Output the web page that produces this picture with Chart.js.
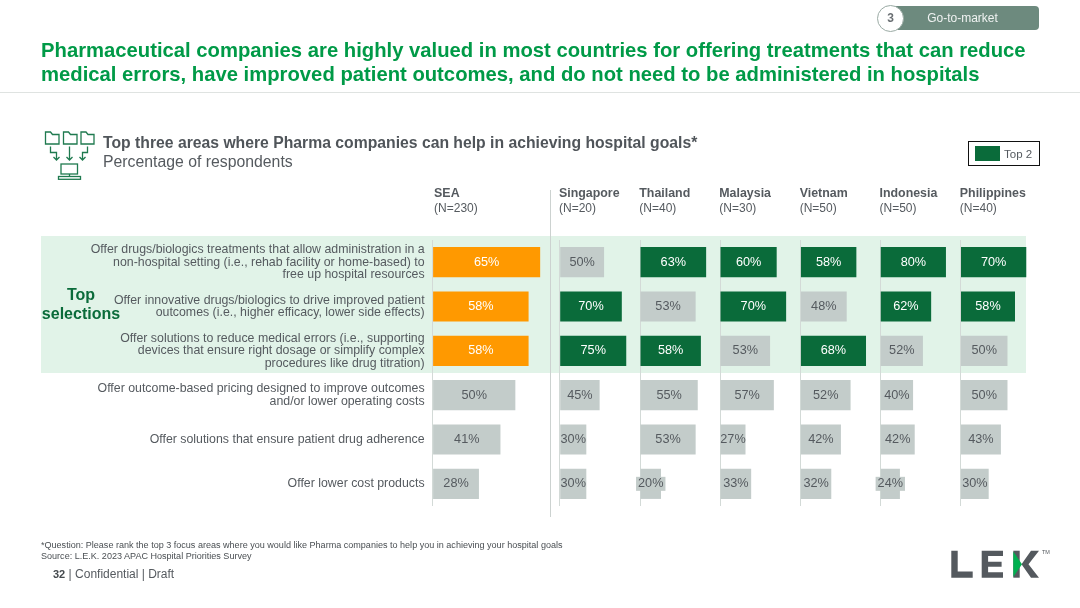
<!DOCTYPE html>
<html>
<head>
<meta charset="utf-8">
<title>Pharma companies hospital goals</title>
<script src="https://cdn.jsdelivr.net/npm/chart.js@4/dist/chart.umd.js"></script>
<style>
  html, body { margin: 0; padding: 0; background: #fff; }
  body { width: 1080px; height: 608px; position: relative; overflow: hidden; font-family: "Liberation Sans", Arial, sans-serif; color: #555a5f; }
  .abs { position: absolute; white-space: nowrap; }
  #chart { position: absolute; left: 0; top: 0; }
  #title { left: 41px; top: 38px; font-size: 20.25px; line-height: 24px; font-weight: bold; color: #009a47; }
  #rule { left: 0; top: 92px; width: 1080px; height: 1px; background: #dfe3e1; }
  #band { left: 41px; top: 236px; width: 985px; height: 137px; background: #e1f3e8; }
  #divider { left: 550px; top: 190px; width: 1px; height: 327px; background: #ccd2d0; }
  #heading { left: 103px; top: 133px; font-size: 15.8px; line-height: 19px; }
  #heading b { color: #50555a; font-size: 15.74px; }
  #top { left: 41px; top: 284.5px; width: 80px; text-align: center; font-size: 16px; line-height: 19px; font-weight: bold; color: #0a6b3a; }
  #chip { left: 884px; top: 6px; width: 155px; height: 24px; background: #6d8a7e; border-radius: 4px; color: #f0f3f2; font-size: 12px; line-height: 24px; text-align: center; }
  #chip span { position: relative; left: 1px; }
  #circle { left: 877px; top: 5px; width: 25px; height: 25px; border: 1px solid #9aaaa4; border-radius: 50%; background: #fff; text-align: center; line-height: 25px; font-size: 12px; font-weight: bold; color: #6a6f73; }
  #legend { left: 968px; top: 141px; width: 70px; height: 23px; border: 1px solid #111; }
  #swatch { left: 975px; top: 146px; width: 25px; height: 15px; background: #0a6b3a; }
  #legendText { left: 1004px; top: 147px; font-size: 11.5px; line-height: 14px; }
  #foot { left: 41px; top: 540px; font-size: 9.05px; line-height: 11px; color: #4a4f53; }
  #page { left: 53px; top: 567px; font-size: 12px; line-height: 14px; }
  #page b { font-size: 11px; color: #44494d; }
</style>
</head>
<body>
<div class="abs" id="band"></div>
<canvas id="chart" width="1080" height="608"></canvas>
<div class="abs" id="divider"></div>
<div class="abs" id="chip"><span>Go-to-market</span></div>
<div class="abs" id="circle">3</div>
<div class="abs" id="title">Pharmaceutical companies are highly valued in most countries for offering treatments that can reduce<br>medical errors, have improved patient outcomes, and do not need to be administered in hospitals</div>
<div class="abs" id="rule"></div>
<div class="abs" id="heading"><b>Top three areas where Pharma companies can help in achieving hospital goals*</b><br>Percentage of respondents</div>
<div class="abs" id="top">Top<br>selections</div>
<div class="abs" id="legend"></div>
<div class="abs" id="swatch"></div>
<div class="abs" id="legendText">Top 2</div>
<div class="abs" id="foot">*Question: Please rank the top 3 focus areas where you would like Pharma companies to help you in achieving your hospital goals<br>Source: L.E.K. 2023 APAC Hospital Priorities Survey</div>
<div class="abs" id="page"><b>32</b> | Confidential | Draft</div>

<svg class="abs" style="left:0;top:0" width="1080" height="608" pointer-events="none">
  <!-- folders, arrows and monitor icon -->
  <g fill="none" stroke="#1f7a4f" stroke-width="1.3">
    <path d="M45.5 144V132h5l2 2.5h6.5V144z"/>
    <path d="M63.5 144V132h5l2 2.5h6.5V144z"/>
    <path d="M81 144V132h5l2 2.5h6V144z"/>
    <path d="M50.5 146.5v6h6v7M53.5 157l3 3 3-3"/>
    <path d="M69.5 146.5V160M66.5 157l3 3 3-3"/>
    <path d="M87.5 146.5v6h-5v7M79.5 157l3 3 3-3"/>
    <rect x="61" y="164" width="16.5" height="10"/>
    <path d="M69.5 174v2.5"/>
    <rect x="58.5" y="176.5" width="22" height="2.8"/>
  </g>
  <!-- logo -->
  <g fill="#54595e">
    <path d="M951.3 550.7h6.4v20.9h15v6.1h-21.4z"/>
    <path d="M981.7 550.7h21.3v5.4h-14.9v5.7h13.5v5h-13.5v5.5h14.9v5.4h-21.3z"/>
    <path d="M1013.3 550.7h6.4v27h-6.4z"/>
    <path d="M1031 550.7h8l-10.5 13.5 10.5 13.5h-8l-9.5-13.5z"/>
  </g>
  <path d="M1013.3 551.5l8.7 12.7-8.7 12.7z" fill="#00b050"/>
  <text x="1042" y="554" font-size="5.5" fill="#54595e" font-family="Liberation Sans">TM</text>
</svg>

<script>
const categories = [
  ['Offer drugs/biologics treatments that allow administration in a', 'non-hospital setting (i.e., rehab facility or home-based) to', 'free up hospital resources'],
  ['Offer innovative drugs/biologics to drive improved patient', 'outcomes (i.e., higher efficacy, lower side effects)'],
  ['Offer solutions to reduce medical errors (i.e., supporting', 'devices that ensure right dosage or simplify complex', 'procedures like drug titration)'],
  ['Offer outcome-based pricing designed to improve outcomes', 'and/or lower operating costs'],
  'Offer solutions that ensure patient drug adherence',
  'Offer lower cost products'
];

const countries = ['SEA', 'Singapore', 'Thailand', 'Malaysia', 'Vietnam', 'Indonesia', 'Philippines'];
const sampleSizes = ['(N=230)', '(N=20)', '(N=40)', '(N=30)', '(N=50)', '(N=50)', '(N=40)'];

const sea = [65, 58, 58, 50, 41, 28];
const singapore = [50, 70, 75, 45, 30, 30];
const thailand = [63, 53, 58, 55, 53, 20];
const malaysia = [60, 70, 53, 57, 27, 33];
const vietnam = [58, 48, 68, 52, 42, 32];
const indonesia = [80, 62, 52, 40, 42, 24];
const philippines = [70, 58, 50, 50, 43, 30];
const series = [sea, singapore, thailand, malaysia, vietnam, indonesia, philippines];

// width of each panel in px, and the axis maximum that gives the bar lengths of the original
const panelWidths = [127.1, 80.3, 80, 80.4, 79.8, 80.3, 79.5];
const panelMax = [76.8, 90.5, 76.2, 85.1, 82.7, 97.7, 84.6];

const GREEN = '#0a6b3a';
const ORANGE = '#ff9900';
const GRAY = '#c3ccca';
const TEXT = '#555a5f';
const FONT = '"Liberation Sans", Arial, sans-serif';

// top 2 of a column gets the highlight colour, ties included
function barColors(values, highlight) {
  const second = [...values].sort((a, b) => b - a)[1];
  return values.map(v => (v >= second ? highlight : GRAY));
}

const datasets = series.map((values, i) => ({
  label: countries[i],
  data: values,
  xAxisID: 'x' + i,
  backgroundColor: barColors(values, i === 0 ? ORANGE : GREEN),
  grouped: false,
  barPercentage: 0.68,
  categoryPercentage: 1
}));

const scales = {
  y: {
    type: 'category',
    offset: true,
    grid: { display: false, drawTicks: false },
    border: { display: false },
    ticks: {
      autoSkip: false,
      padding: 8,
      color: TEXT,
      font: { family: FONT, size: 12.35, lineHeight: 1.02 }
    },
    afterFit: scale => { scale.width = 432.6; }
  }
};
series.forEach((values, i) => {
  scales['x' + i] = {
    axis: 'x',
    type: 'linear',
    position: 'bottom',
    stack: 'panels',
    stackWeight: panelWidths[i],
    min: 0,
    max: panelMax[i],
    afterBuildTicks: scale => { scale.ticks = [{ value: 0 }]; },
    grid: { drawTicks: false, color: '#d3dad7', lineWidth: 1 },
    border: { display: false },
    ticks: { display: false }
  };
});

// value labels on the bars and the country headers above them
const labelPlugin = {
  id: 'labelPlugin',
  afterDatasetsDraw(chart) {
    const ctx = chart.ctx;
    ctx.save();
    ctx.textBaseline = 'middle';
    series.forEach((values, i) => {
      const meta = chart.getDatasetMeta(i);
      const colors = datasets[i].backgroundColor;
      ctx.font = '12.7px ' + FONT;
      meta.data.forEach((bar, j) => {
        const text = values[j] + '%';
        const cx = (bar.x + bar.base) / 2;
        const w = ctx.measureText(text).width;
        if (w > bar.x - bar.base + 3) {
          ctx.fillStyle = GRAY;
          ctx.fillRect(cx - w / 2 - 2, bar.y - 7, w + 4, 14);
        }
        ctx.fillStyle = colors[j] === GRAY ? TEXT : '#fff';
        ctx.textAlign = 'center';
        ctx.fillText(text, cx, bar.y);
      });
      const left = chart.scales['x' + i].left + (i === 0 ? 1.5 : -0.7);
      ctx.textAlign = 'left';
      ctx.fillStyle = TEXT;
      ctx.font = 'bold 12.4px ' + FONT;
      ctx.fillText(countries[i], left, 194);
      ctx.font = '12px ' + FONT;
      ctx.fillText(sampleSizes[i], left, 209);
    });
    ctx.restore();
  }
};

new Chart(document.getElementById('chart').getContext('2d'), {
  type: 'bar',
  data: { labels: categories, datasets },
  options: {
    indexAxis: 'y',
    responsive: false,
    animation: false,
    devicePixelRatio: 1,
    layout: { padding: { top: 240, bottom: 102, left: 0, right: 40 } },
    plugins: { legend: { display: false }, tooltip: { enabled: false } },
    scales
  },
  plugins: [labelPlugin]
});
</script>
</body>
</html>
